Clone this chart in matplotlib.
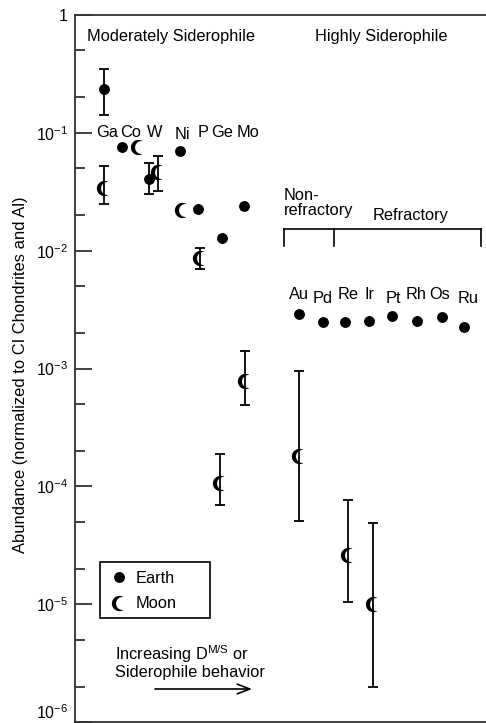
import numpy as np
import matplotlib
matplotlib.use("Agg")
import matplotlib.pyplot as plt
from matplotlib.path import Path
from matplotlib.lines import Line2D
from matplotlib.patches import Rectangle
from matplotlib.ticker import FixedLocator, FixedFormatter, NullFormatter

plt.rcParams['font.family'] = ['Liberation Sans', 'DejaVu Sans']
plt.rcParams['mathtext.fontset'] = 'custom'
plt.rcParams['mathtext.rm'] = 'Liberation Sans'
plt.rcParams['mathtext.it'] = 'Liberation Sans:italic'
plt.rcParams['mathtext.bf'] = 'Liberation Sans:bold'

# ---------------- data ----------------
earth_elements = ['Ga', 'Co', 'W', 'Ni', 'P', 'Ge', 'Mo',
                  'Au', 'Pd', 'Re', 'Ir', 'Pt', 'Rh', 'Os', 'Ru']
earth_vals = [0.236, 0.076, 0.0407, 0.0704, 0.0227, 0.0129, 0.0241,
              0.00292, 0.0025, 0.0025, 0.00255, 0.00281, 0.00255, 0.00276, 0.00223]
earth_lo = [0.142, None, 0.0304, None, None, None, None,
            None, None, None, None, None, None, None, None]
earth_hi = [0.348, None, 0.0557, None, None, None, None,
            None, None, None, None, None, None, None, None]

moon_elements = ['Ga', 'Co', 'W', 'Ni', 'P', 'Ge', 'Mo', 'Au', 'Re', 'Ir']
moon_vals = [0.0342, 0.076, 0.0467, 0.0223, 0.00873, 1.06e-4, 7.9e-4, 1.8e-4, 2.6e-5, 1.0e-5]
moon_lo = [0.025, None, 0.0323, None, 0.00704, 6.9e-5, 4.86e-4, 5.05e-5, 1.04e-5, 1.98e-6]
moon_hi = [0.0525, None, 0.0638, None, 0.0106, 1.87e-4, 1.42e-3, 9.6e-4, 7.6e-5, 4.86e-5]

ytick_vals = [1e-6, 1e-5, 1e-4, 1e-3, 1e-2, 1e-1, 1]
ytick_labels = [r'$\mathregular{10^{-6}}$', r'$\mathregular{10^{-5}}$',
                r'$\mathregular{10^{-4}}$', r'$\mathregular{10^{-3}}$',
                r'$\mathregular{10^{-2}}$', r'$\mathregular{10^{-1}}$', '1']

# ---------------- layout (horizontal positions, label placement) ----------------
earth_x = [29, 47, 74, 105, 123, 147, 169, 224, 248, 270, 294, 317, 342, 367, 389]
moon_x = [29, 63, 83, 107, 125, 145, 170, 224, 273, 298]

label_x = [32, 56, 80, 107, 128, 147, 173, 224, 248, 273, 294, 318, 341, 365, 393]
label_ybase = [137, 137, 137, 139, 137, 137, 137, 299, 303, 299, 299, 303, 299, 299, 303]

W_PX, H_PX = 486, 723
AX_L, AX_T, AX_R, AX_B = 75, 15, 486, 722


def yf(py):
    return (AX_B - py) / (AX_B - AX_T)


def xf(px):
    return (px - AX_L) / (AX_R - AX_L)


# crescent marker
def crescent_path():
    r, d = 0.85, 0.40
    xi = (1 - r ** 2 + d ** 2) / (2 * d)
    yi = np.sqrt(1 - xi ** 2)
    t1 = np.arctan2(yi, xi)
    t_outer = np.linspace(t1, 2 * np.pi - t1, 60)
    ti = np.arctan2(yi, xi - d)
    t_inner = np.linspace(2 * np.pi - ti, ti, 60)
    xs = np.concatenate([np.cos(t_outer), d + r * np.cos(t_inner)])
    ys = np.concatenate([np.sin(t_outer), r * np.sin(t_inner)])
    verts = np.column_stack([xs, ys])
    verts = np.vstack([verts, verts[:1]])
    codes = [Path.MOVETO] + [Path.LINETO] * (len(verts) - 2) + [Path.CLOSEPOLY]
    return Path(verts, codes)


MOON = crescent_path()

fig = plt.figure(figsize=(W_PX / 100, H_PX / 100), dpi=100)
ax = fig.add_axes([AX_L / W_PX, 1 - AX_B / H_PX, (AX_R - AX_L) / W_PX, (AX_B - AX_T) / H_PX])
ax.set_yscale('log')
ax.set_ylim(1e-6, 1)
ax.set_xlim(0, AX_R - AX_L)

spc = '#333333'
for s in ['left', 'top', 'bottom']:
    ax.spines[s].set_color(spc)
    ax.spines[s].set_linewidth(1.3)
ax.spines['right'].set_visible(False)

ax.set_xticks([])
ax.yaxis.set_major_locator(FixedLocator(ytick_vals))
ax.yaxis.set_major_formatter(FixedFormatter(ytick_labels))
minor = [m * 10.0 ** e for e in range(-6, 0) for m in (2, 5)]
ax.yaxis.set_minor_locator(FixedLocator(minor))
ax.yaxis.set_minor_formatter(NullFormatter())
ax.tick_params(axis='y', which='major', direction='in', length=12.5, width=1.3,
               color=spc, labelsize=11.5, pad=5)
ax.tick_params(axis='y', which='minor', direction='in', length=7.5, width=1.3, color=spc)
# bottom label sits on the lower edge of the canvas
ax.yaxis.get_major_ticks()[0].label1.set_verticalalignment('bottom')

# error bars
for x, v, lo, hi in zip(earth_x, earth_vals, earth_lo, earth_hi):
    if lo is not None:
        ax.errorbar([x], [v], yerr=[[v - lo], [hi - v]], fmt='none', ecolor='black',
                    elinewidth=1.3, capsize=3.3, capthick=1.3, zorder=2)
for x, v, lo, hi in zip(moon_x, moon_vals, moon_lo, moon_hi):
    if lo is not None:
        ax.errorbar([x], [v], yerr=[[v - lo], [hi - v]], fmt='none', ecolor='black',
                    elinewidth=1.3, capsize=3.3, capthick=1.3, zorder=2)

ax.plot(earth_x, earth_vals, 'o', color='black', markersize=6.8, linestyle='none', zorder=3)
ax.plot(moon_x, moon_vals, marker=MOON, color='black', markersize=11, linestyle='none',
        markeredgewidth=0, zorder=3)

trans = ax.get_xaxis_transform()
FS = 11.8
for name, lx, ly in zip(earth_elements, label_x, label_ybase):
    ax.text(lx, yf(ly), name, transform=trans, ha='center', va='baseline', fontsize=FS)

ax.text(171 - AX_L, yf(41), 'Moderately Siderophile', transform=trans, ha='center',
        va='baseline', fontsize=FS)
ax.text(381 - AX_L, yf(41), 'Highly Siderophile', transform=trans, ha='center',
        va='baseline', fontsize=FS)
ax.text(284 - AX_L, yf(200), 'Non-', transform=trans, ha='left', va='baseline', fontsize=FS)
ax.text(284 - AX_L, yf(215), 'refractory', transform=trans, ha='left', va='baseline', fontsize=FS)
ax.text(411 - AX_L, yf(220), 'Refractory', transform=trans, ha='center', va='baseline', fontsize=FS)

# bracket
bk = dict(color='black', linewidth=1.2, transform=trans, clip_on=False)
ax.plot([284 - AX_L, 481 - AX_L], [yf(229), yf(229)], **bk)
for bx in (284, 334, 481):
    ax.plot([bx - AX_L, bx - AX_L], [yf(229), yf(246)], **bk)

# increasing text and arrow
ax.text(115 - AX_L, yf(660), r'Increasing D$^{\mathregular{M/S}}$ or', transform=trans,
        ha='left', va='baseline', fontsize=FS)
ax.text(115 - AX_L, yf(677), 'Siderophile behavior', transform=trans,
        ha='left', va='baseline', fontsize=FS)
ax.annotate('', xy=(252 - AX_L, yf(689)), xytext=(155 - AX_L, yf(689)),
            xycoords=trans, textcoords=trans,
            arrowprops=dict(arrowstyle='->,head_length=0.9,head_width=0.35',
                            color='black', linewidth=1.2, shrinkA=0, shrinkB=0))

# legend
h_earth = Line2D([], [], marker='o', color='black', linestyle='none', markersize=6.8)
h_moon = Line2D([], [], marker=MOON, color='black', linestyle='none', markersize=11,
                markeredgewidth=0)
leg = ax.legend([h_earth, h_moon], ['Earth', 'Moon'], loc='upper left',
                bbox_to_anchor=(xf(100), yf(562)),
                borderaxespad=0, fontsize=FS, frameon=False,
                handlelength=1.2, handletextpad=0.4,
                labelspacing=0.63, borderpad=0.55)
ax.add_patch(Rectangle((xf(100), yf(618)), xf(210) - xf(100), yf(562) - yf(618),
                       transform=ax.transAxes, facecolor='none', edgecolor='black',
                       linewidth=1.2, zorder=5))

fig.text(21 / W_PX, 1 - 375 / H_PX, 'Abundance (normalized to CI Chondrites and Al)',
         rotation=90, ha='center', va='center', fontsize=11.9)

fig.savefig('out.png', dpi=100)
